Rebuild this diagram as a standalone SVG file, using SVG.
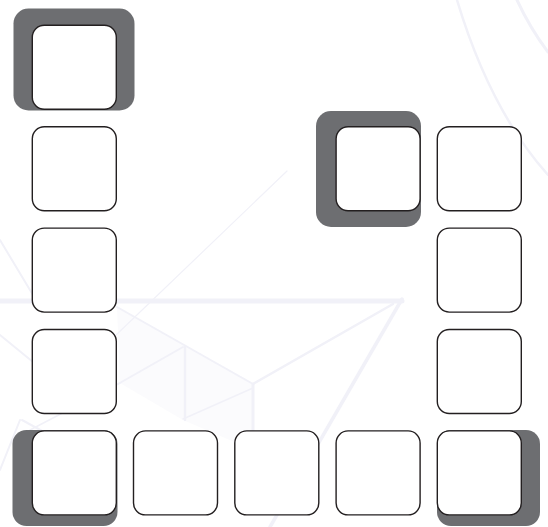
<svg xmlns="http://www.w3.org/2000/svg" width="548" height="527" viewBox="0 0 548 527">
  <style>
    .bg { fill: none; stroke: #f1f1f8; stroke-linecap: round; }
    .hl { fill: #6d6e71; }
    .box { fill: #ffffff; stroke: #231f20; stroke-width: 1.4; }
  </style>
  <rect x="0" y="0" width="548" height="527" fill="#ffffff"/>
  <g id="background">
    <polygon points="117,307 253,383 253,450 183,420 120,383" fill="#fbfbfd" stroke="none"/>
    <line class="bg" x1="0" y1="301" x2="402" y2="301" stroke-width="5"/>
    <line class="bg" x1="402" y1="299" x2="270" y2="527" stroke-width="3.5"/>
    <line class="bg" x1="393" y1="304" x2="253" y2="384" stroke-width="2.5"/>
    <line class="bg" x1="253" y1="384" x2="253" y2="450" stroke-width="3"/>
    <line class="bg" x1="117" y1="307" x2="253" y2="384" stroke-width="2"/>
    <line class="bg" x1="185" y1="347" x2="185" y2="420" stroke-width="2.5"/>
    <line class="bg" x1="183" y1="347" x2="118" y2="384" stroke-width="2"/>
    <line class="bg" x1="183" y1="419" x2="253" y2="388" stroke-width="1.5"/>
    <line class="bg" x1="287" y1="171" x2="115" y2="336" stroke-width="1.2"/>
    <line class="bg" x1="0" y1="240" x2="36" y2="300" stroke-width="2"/>
    <line class="bg" x1="0" y1="335" x2="55" y2="380" stroke-width="2"/>
    <line class="bg" x1="20" y1="420" x2="0" y2="470" stroke-width="2"/>
    <line class="bg" x1="22" y1="420" x2="55" y2="438" stroke-width="2"/>
    <line class="bg" x1="120" y1="383" x2="30" y2="430" stroke-width="1.5"/>
    <path class="bg" d="M457,0 Q490,110 548,175" stroke-width="2.5"/>
    <path class="bg" d="M517,0 Q530,28 548,52" stroke-width="3"/>
  </g>
  <g id="highlights">
    <rect class="hl" x="13.5" y="8.5" width="121" height="102" rx="15"/>
    <rect class="hl" x="316" y="111" width="105" height="116" rx="15"/>
    <rect class="hl" x="12.5" y="430" width="105" height="96" rx="14"/>
    <rect class="hl" x="437" y="430" width="103" height="96" rx="14"/>
  </g>
  <g id="connectors"></g>
  <g id="node-c0r0"><rect class="box" x="32.3" y="25.3" width="84" height="84" rx="12"/></g>
  <g id="node-c0r1"><rect class="box" x="32.3" y="126.7" width="84" height="84" rx="12"/></g>
  <g id="node-c0r2"><rect class="box" x="32.3" y="228.1" width="84" height="84" rx="12"/></g>
  <g id="node-c0r3"><rect class="box" x="32.3" y="329.5" width="84" height="84" rx="12"/></g>
  <g id="node-c0r4"><rect class="box" x="32.3" y="430.9" width="84" height="84" rx="12"/></g>
  <g id="node-c1r4"><rect class="box" x="133.5" y="430.9" width="84" height="84" rx="12"/></g>
  <g id="node-c2r4"><rect class="box" x="234.8" y="430.9" width="84" height="84" rx="12"/></g>
  <g id="node-c3r4"><rect class="box" x="336.1" y="430.9" width="84" height="84" rx="12"/></g>
  <g id="node-c4r4"><rect class="box" x="437.3" y="430.9" width="84" height="84" rx="12"/></g>
  <g id="node-c4r3"><rect class="box" x="437.3" y="329.5" width="84" height="84" rx="12"/></g>
  <g id="node-c4r2"><rect class="box" x="437.3" y="228.1" width="84" height="84" rx="12"/></g>
  <g id="node-c4r1"><rect class="box" x="437.3" y="126.7" width="84" height="84" rx="12"/></g>
  <g id="node-c3r1"><rect class="box" x="336.1" y="126.7" width="84" height="84" rx="12"/></g>
</svg>
